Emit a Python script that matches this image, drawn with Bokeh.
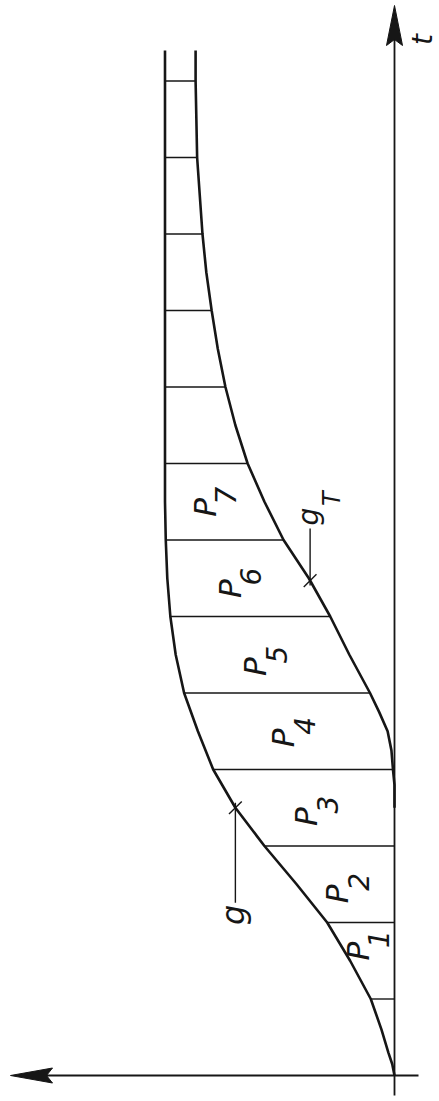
import numpy as np
from bokeh.plotting import figure
from bokeh.models import Range1d
from bokeh.core.properties import value
from bokeh.embed import file_html
from bokeh.resources import INLINE

# ---------------- data (t along the arrow "t", g to the left) -------------
t_g = [0, 0.15, 0.3, 0.6, 1.0, 1.5, 2.0, 2.5, 3.0, 3.5, 4.0, 4.5, 5.0, 5.5, 6.0, 6.5,
       7.0, 7.5, 8.0, 9.0, 10.0, 11.0, 12.0, 13.0, 13.4]
g_vals = [0, 0.03, 0.08, 0.17, 0.31, 0.58, 0.88, 1.28, 1.70, 2.08, 2.37, 2.57, 2.75, 2.86,
          2.93, 2.97, 2.99, 3.0, 3.0, 3.0, 3.0, 3.0, 3.0, 3.0, 3.0]

t_gT = [3.5, 3.8, 4.0, 4.25, 4.5, 4.75, 5.0, 5.5, 6.0, 6.5, 7.0, 7.5, 8.0, 8.5, 9.0, 9.5,
        10.0, 10.5, 11.0, 12.0, 13.0, 13.4]
gT_vals = [0, 0, 0.02, 0.04, 0.09, 0.20, 0.32, 0.59, 0.84, 1.12, 1.45, 1.70, 1.92, 2.08,
           2.21, 2.31, 2.39, 2.46, 2.51, 2.58, 2.60, 2.60]

step_t = [1, 2, 3, 4, 5, 6, 7, 8, 9, 10, 11, 12, 13]          # divider lines
p_names = ["P", "P", "P", "P", "P", "P", "P"]
p_subs = ["1", "2", "3", "4", "5", "6", "7"]
p_t = [1.69, 2.44, 3.45, 4.48, 5.41, 6.43, 7.49]              # label places inside the strips

g_mark_t = 3.5      # point marked "g"
gT_mark_t = 6.47    # point marked "g_T"

# ---------------- layout -------------
W, H = 439, 1101
PPU = 76.5                       # pixels per unit
G0, T0 = 394.0, 1075.0           # pixel position of the origin inside the frame
x_rng = Range1d(G0 / PPU, (G0 - W) / PPU)          # reversed: g grows to the left
y_rng = Range1d((T0 - H) / PPU, T0 / PPU)

INK = "#161616"
FONT = value("DejaVu Sans")

p = figure(width=W, height=H, x_range=x_rng, y_range=y_rng, output_backend="svg",
           toolbar_location=None, min_border=0)
p.axis.visible = False
p.grid.visible = False
p.outline_line_color = None
p.background_fill_color = "white"
p.border_fill_color = "white"

def px(n):
    return n / PPU

# axes
t_tip = y_rng.end - px(5)
g_tip = x_rng.start - px(10)
p.line([0, 0], [px(-20), t_tip - px(30)], line_color=INK, line_width=1.8)
p.line([px(-24), g_tip - px(30)], [0, 0], line_color=INK, line_width=1.8)
p.patch([0, px(8), 0, px(-8)], [t_tip, t_tip - px(40), t_tip - px(34), t_tip - px(40)],
        fill_color=INK, line_color=INK, line_width=1)
p.patch([g_tip, g_tip - px(42), g_tip - px(36), g_tip - px(42)],
        [0, px(7.5), 0, px(-7.5)], fill_color=INK, line_color=INK, line_width=1)

# curves
p.line(g_vals, t_g, line_color=INK, line_width=2.6)
p.line(gT_vals, t_gT, line_color=INK, line_width=2.6)

# strip dividers
g_at = np.interp(step_t, t_g, g_vals)
gT_at = np.interp(step_t, t_gT, gT_vals, left=0.0)
p.segment(x0=gT_at, x1=g_at, y0=step_t, y1=step_t, line_color=INK, line_width=1.4)

# strip labels P_k
pt = np.array(p_t)
mid = (np.interp(pt, t_g, g_vals) + np.interp(pt, t_gT, gT_vals, left=0.0)) / 2
p.text(x=mid + px(10), y=pt - px(5), text=p_names, angle=np.pi / 2,
       text_font=FONT, text_font_style="italic", text_font_size="31px",
       text_align="center", text_baseline="middle", text_color=INK)
p.text(x=mid - px(11), y=pt + px(7), text=p_subs, angle=np.pi / 2,
       text_font=FONT, text_font_style="italic", text_font_size="28px",
       text_align="center", text_baseline="middle", text_color=INK)

# marker "g"
gm = float(np.interp(g_mark_t, t_g, g_vals))
d = px(9) / np.sqrt(2)
p.segment(x0=[gm, gm - d], x1=[gm, gm + d], y0=[g_mark_t - px(95), g_mark_t + d],
          y1=[g_mark_t + px(5), g_mark_t - d], line_color=INK, line_width=1.4)
p.text(x=[gm + px(2)], y=[g_mark_t - px(107)], text=["g"], angle=np.pi / 2,
       text_font=FONT, text_font_style="italic", text_font_size="32px",
       text_align="center", text_baseline="middle", text_color=INK)

# marker "g_T"
gtm = float(np.interp(gT_mark_t, t_gT, gT_vals))
p.segment(x0=[gtm, gtm - d], x1=[gtm, gtm + d], y0=[gT_mark_t - px(5), gT_mark_t + d],
          y1=[gT_mark_t + px(52), gT_mark_t - d], line_color=INK, line_width=1.4)
p.text(x=[gtm + px(2)], y=[gT_mark_t + px(64)], text=["g"], angle=np.pi / 2,
       text_font=FONT, text_font_style="italic", text_font_size="28px",
       text_align="center", text_baseline="middle", text_color=INK)
p.text(x=[gtm - px(22)], y=[gT_mark_t + px(82)], text=["T"], angle=np.pi / 2,
       text_font=FONT, text_font_style="italic", text_font_size="24px",
       text_align="center", text_baseline="middle", text_color=INK)

# axis label t
p.text(x=[px(-28)], y=[t_tip - px(34)], text=["t"], angle=np.pi / 2,
       text_font=FONT, text_font_style="italic", text_font_size="28px",
       text_align="center", text_baseline="middle", text_color=INK)

open("out.html", "w").write(file_html(p, INLINE))
